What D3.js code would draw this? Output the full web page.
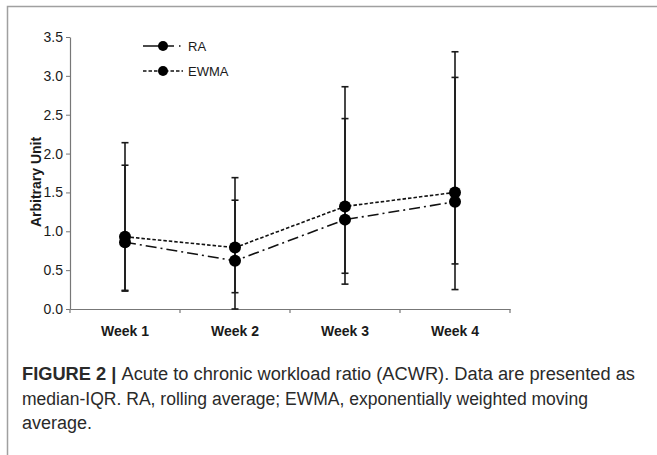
<!DOCTYPE html>
<html>
<head>
<meta charset="utf-8">
<script src="https://cdn.jsdelivr.net/npm/d3@7"></script>
<style>
	body { margin: 0; background: #fff; }
	svg { display: block; font-family: "Liberation Sans", Arial, sans-serif; }
</style>
</head>
<body>
<svg id="chart" width="657" height="455"></svg>
<script>
var weeks = ["Week 1", "Week 2", "Week 3", "Week 4"];
var ra = [0.86, 0.62, 1.15, 1.38];
var ewma = [0.93, 0.79, 1.32, 1.50];
var raLow = [0.23, 0.0, 0.32, 0.25];
var raHigh = [1.85, 1.40, 2.45, 2.98];
var ewmaLow = [0.24, 0.21, 0.46, 0.58];
var ewmaHigh = [2.14, 1.69, 2.86, 3.31];
var yTicks = [0, 0.5, 1, 1.5, 2, 2.5, 3, 3.5];
var caption = [
	["FIGURE 2 | ", "Acute to chronic workload ratio (ACWR). Data are presented as"],
	["", "median-IQR. RA, rolling average; EWMA, exponentially weighted moving"],
	["", "average."]
];
var captionWidths = [613, 566, null];

var svg = d3.select("#chart"),
	margin = {top: 37, left: 70, right: 147, bottom: 146},
	width = +svg.attr("width"),
	height = +svg.attr("height");

// figure frame
svg.append("path")
	.attr("d", "M7.5,455V6.5H657")
	.attr("fill", "none")
	.attr("stroke", "#a0a0a0")
	.attr("stroke-width", 1.5);

var x = d3.scaleBand()
	.domain(weeks)
	.range([margin.left, width - margin.right]);

var y = d3.scaleLinear()
	.domain([0, 3.5])
	.range([height - margin.bottom, margin.top]);

var xAxis = svg.append("g")
	.attr("transform", "translate(0," + y(0) + ")")
	.call(d3.axisBottom(x).tickSize(0).tickPadding(17));
xAxis.selectAll("text")
	.attr("font-size", 14).attr("font-weight", "bold").attr("fill", "#1a1a1a");
xAxis.select(".domain").attr("stroke", "#777").attr("stroke-width", 1.2);
// boundary ticks between categories
xAxis.selectAll(".sep")
	.data(d3.range(weeks.length + 1))
	.enter().append("line")
	.attr("x1", i => margin.left + i * x.step())
	.attr("x2", i => margin.left + i * x.step())
	.attr("y1", 0).attr("y2", 4)
	.attr("stroke", "#777").attr("stroke-width", 1.2);

var yAxis = svg.append("g")
	.attr("transform", "translate(" + margin.left + ",0)")
	.call(d3.axisLeft(y).tickValues(yTicks).tickFormat(d3.format(".1f")).tickSize(4).tickPadding(3).tickSizeOuter(0));
yAxis.selectAll("text").attr("font-size", 14).attr("fill", "#1a1a1a");
yAxis.selectAll("line").attr("stroke", "#777");
yAxis.select(".domain").attr("stroke", "#777").attr("stroke-width", 1.2);

svg.append("text")
	.attr("transform", "translate(41," + ((y(0) + y(3.5)) / 2 + 9) + ") rotate(-90)")
	.attr("text-anchor", "middle")
	.attr("font-size", 14)
	.attr("font-weight", "bold")
	.attr("fill", "#1a1a1a")
	.text("Arbitrary Unit");

var cx = d => x(d) + x.bandwidth() / 2;

// error bars
function bars(lo, hi) {
	var g = svg.append("g").attr("stroke", "#1a1a1a").attr("stroke-width", 1.6);
	weeks.forEach(function(w, i) {
		g.append("line").attr("x1", cx(w)).attr("x2", cx(w)).attr("y1", y(lo[i])).attr("y2", y(hi[i]));
		[lo[i], hi[i]].forEach(function(v) {
			g.append("line").attr("x1", cx(w) - 3.5).attr("x2", cx(w) + 3.5).attr("y1", y(v)).attr("y2", y(v));
		});
	});
}
bars(raLow, raHigh);
bars(ewmaLow, ewmaHigh);

var line = d3.line().x((d, i) => cx(weeks[i])).y(d => y(d));

var series = [
	{name: "RA", values: ra, dash: "11,4,2,4"},
	{name: "EWMA", values: ewma, dash: "3.5,2"}
];

series.forEach(function(s) {
	svg.append("path")
		.datum(s.values)
		.attr("d", line)
		.attr("fill", "none")
		.attr("stroke", "#111")
		.attr("stroke-width", 1.6)
		.attr("stroke-dasharray", s.dash);
	svg.selectAll(null)
		.data(s.values)
		.enter().append("circle")
		.attr("cx", (d, i) => cx(weeks[i]))
		.attr("cy", d => y(d))
		.attr("r", 6)
		.attr("fill", "#000");
});

// legend
var legend = svg.append("g").attr("transform", "translate(143,46)");
legend.selectAll("g")
	.data(series)
	.enter().append("g")
	.attr("transform", (d, i) => "translate(0," + i * 25 + ")")
	.each(function(d) {
		var g = d3.select(this);
		g.append("line").attr("x1", 0).attr("x2", 40).attr("y1", 0).attr("y2", 0)
			.attr("stroke", "#111").attr("stroke-width", 1.6)
			.attr("stroke-dasharray", d.name == "RA" ? "31,5,1.5,100" : "3.5,2");
		g.append("circle").attr("cx", 20).attr("cy", 0).attr("r", 5).attr("fill", "#000");
		g.append("text").attr("x", 45).attr("y", 5)
			.attr("font-size", 13).attr("fill", "#1a1a1a").text(d.name);
	});

// caption
var cap = svg.append("g").attr("font-size", 18).attr("fill", "#2a2a2a");
caption.forEach(function(c, i) {
	var t = cap.append("text").attr("x", 22).attr("y", 380 + i * 24.5);
	if (captionWidths[i]) t.attr("textLength", captionWidths[i]).attr("lengthAdjust", "spacingAndGlyphs");
	if (c[0]) t.append("tspan").attr("font-weight", "bold").text(c[0]);
	t.append("tspan").text(c[1]);
});
</script>
</body>
</html>
